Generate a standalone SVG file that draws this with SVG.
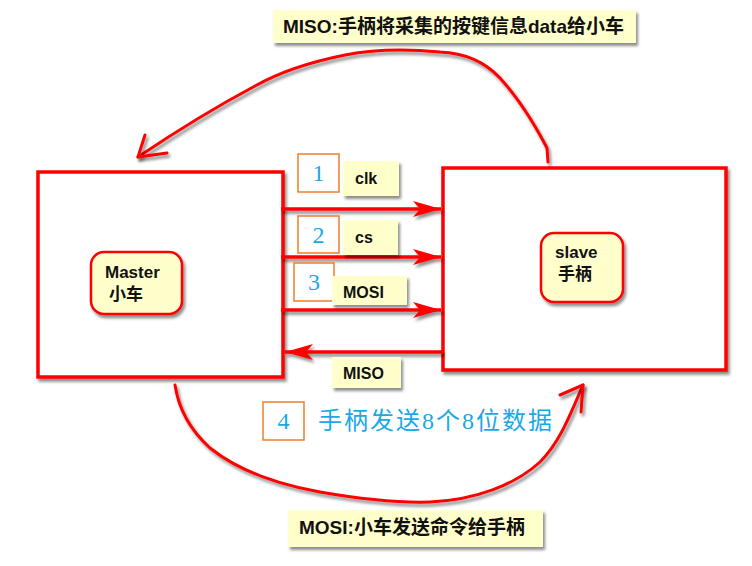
<svg xmlns="http://www.w3.org/2000/svg" width="752" height="566" viewBox="0 0 752 566">
<defs>
<filter id="sh" filterUnits="userSpaceOnUse" x="0" y="0" width="752" height="566">
<feDropShadow dx="2" dy="3" stdDeviation="1.5" flood-color="#000" flood-opacity="0.45"/>
</filter>
<marker id="ah" markerUnits="userSpaceOnUse" markerWidth="30" markerHeight="18" refX="28" refY="9" orient="auto">
<path d="M0,1 L28,9 L0,17 L7,9 z" fill="#ff0000"/>
</marker>
<style>
.big{fill:#ffffff;stroke:#ff0000;stroke-width:3.5;filter:url(#sh)}
.nodebox{fill:#ffffcc;stroke:#ff0000;stroke-width:2.5;filter:url(#sh)}
.lbl{fill:#ffffcc;filter:url(#sh)}
.num{fill:#ffffff;stroke:#f07d2a;stroke-width:1.5}
.numt{font-family:"Liberation Serif","Noto Sans CJK SC",serif;font-size:24px;fill:#1aa8e6;text-anchor:middle}
.t{font-family:"Liberation Sans","Noto Sans CJK SC",sans-serif;font-weight:bold;font-size:16px;fill:#111}
.t19{font-size:19px}
.tn{font-family:"Liberation Sans","Noto Sans CJK SC",sans-serif;font-weight:bold;font-size:17px;fill:#111}
.blue{font-family:"Liberation Serif","Noto Sans CJK SC",serif;font-size:24px;fill:#1aa8e6}
.wire{fill:none;stroke:#ff0000;stroke-width:3.5;filter:url(#sh)}
.curve{fill:none;stroke:#ff0000;stroke-width:3;stroke-linecap:round;stroke-linejoin:round;filter:url(#sh)}
</style>
</defs>
<rect width="752" height="566" fill="#ffffff"/>

<g id="master">
<rect class="big" x="38" y="172" width="245" height="205"/>
<rect class="nodebox" x="91" y="252" width="91" height="62" rx="13"/>
<text class="tn" x="105" y="278">Master</text>
<text class="tn" x="109" y="300">小车</text>
</g>

<g id="slave">
<rect class="big" x="443" y="168" width="283" height="202"/>
<rect class="nodebox" x="541" y="233" width="82" height="69" rx="13"/>
<text class="tn" x="555" y="258">slave</text>
<text class="tn" x="558" y="280">手柄</text>
</g>

<g id="connectors">
<path class="wire" d="M281,209 L441,209" marker-end="url(#ah)"/>
<path class="wire" d="M281,257 L441,257" marker-end="url(#ah)"/>
<path class="wire" d="M281,310 L441,310" marker-end="url(#ah)"/>
<path class="wire" d="M443,352 L285,352" marker-end="url(#ah)"/>
<path class="curve" d="M548,162 L547,148 C535,125 520,100 500,78 C485,62 465,53 440,52 C410,49 380,48 345,55 C310,62 280,72 255,86 C225,102 190,122 138,157"/>
<path class="curve" d="M145,135 L138,157 L167,153"/>
<path class="curve" d="M175,385 C178,405 188,428 210,448 C235,468 270,483 320,492 C360,499 395,503 430,502 C475,500 515,485 540,462 C560,442 570,415 583,385"/>
<path class="curve" d="M560,395 L583,385 L581,412"/>
</g>

<g id="label-clk">
<rect class="num" x="298" y="154" width="41" height="38"/>
<text class="numt" x="318.5" y="181">1</text>
<rect class="lbl" x="343" y="161" width="56" height="35"/>
<text class="t" x="355" y="184">clk</text>
</g>
<g id="label-cs">
<rect class="num" x="298" y="216" width="41" height="37"/>
<text class="numt" x="318.5" y="243">2</text>
<rect class="lbl" x="343" y="220" width="55" height="35"/>
<text class="t" x="355" y="243">cs</text>
</g>
<g id="label-mosi">
<rect class="num" x="294" y="263" width="40" height="38"/>
<text class="numt" x="314" y="290">3</text>
<rect class="lbl" x="332" y="276" width="75" height="29"/>
<text class="t" x="343" y="298">MOSI</text>
</g>
<g id="label-miso">
<rect class="lbl" x="332" y="357" width="69" height="31"/>
<text class="t" x="343" y="379">MISO</text>
</g>
<g id="label-top">
<rect class="lbl" x="273" y="10" width="363" height="33"/>
<text class="t t19" x="283" y="33">MISO:手柄将采集的按键信息data给小车</text>
</g>
<g id="label-bottom">
<rect class="lbl" x="288" y="510" width="255" height="37"/>
<text class="t t19" x="299" y="534">MOSI:小车发送命令给手柄</text>
</g>
<g id="label-step4">
<rect class="num" x="263" y="402" width="41" height="38"/>
<text class="numt" x="283.5" y="429">4</text>
<text class="blue" x="318" y="429" textLength="234" lengthAdjust="spacing">手柄发送8个8位数据</text>
</g>
</svg>
